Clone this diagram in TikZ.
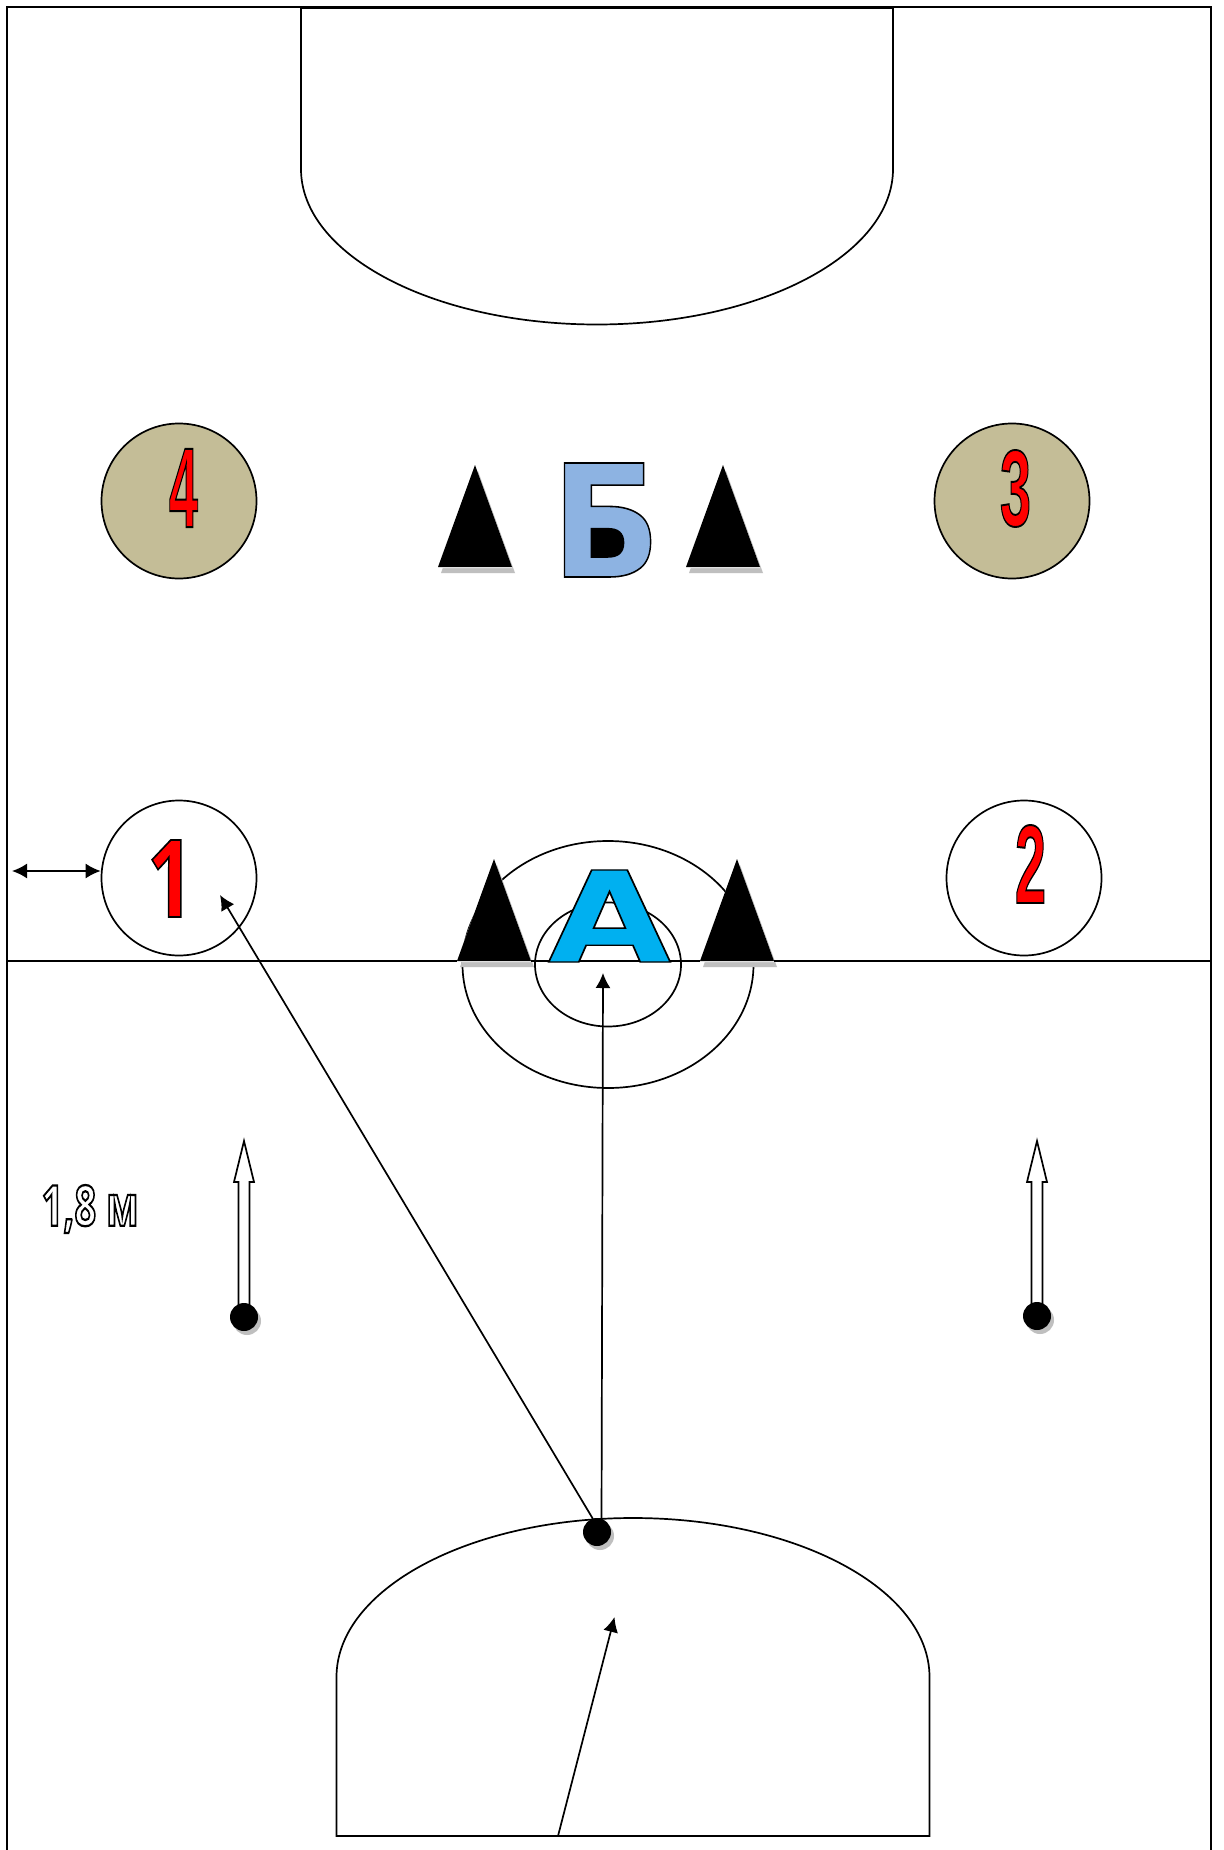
\documentclass[tikz,border=0pt]{standalone}
\usepackage{fontspec}
\usepackage{graphicx}
\usetikzlibrary{arrows.meta}
\newfontfamily\heavyfont{DejaVu Sans Bold}
\newfontfamily\digitfont{Liberation Sans Bold}
\newfontfamily\plainfont{Open Sans Bold}
\definecolor{tanfill}{HTML}{C4BD97}
\definecolor{shadowgray}{HTML}{BFBFBF}
% outlined letters: width, height, fill rgb, stroke width, font, text
\newcommand{\wordart}[6]{\resizebox*{#1}{#2}{\special{pdf:code q 2 Tr #4 w 0 0 0 RG #3 rg}\fontsize{20pt}{20pt}\selectfont#5#6\special{pdf:code Q}}}
\tikzstyle{base} = [line width = 0.85pt, draw=black]
\tikzstyle{player} = [circle, minimum size = 77.5pt, inner sep = 0pt, line width = 0.85pt, draw=black, fill=white]
\tikzstyle{playerdark} = [player, fill=tanfill]
\tikzstyle{letter} = [inner sep = 0pt, outer sep = 0pt]
\tikzstyle{ball} = [circle, minimum size = 14pt, inner sep = 0pt, fill=black]
\tikzstyle{ballshadow} = [circle, minimum size = 14pt, inner sep = 0pt, fill=shadowgray]
\tikzstyle{line} = [draw, line width = 0.85pt, -{Latex[length=7.5pt, width=7.5pt]}]
\tikzstyle{twoway} = [draw, line width = 0.85pt, {Latex[length=7.5pt, width=7.5pt]}-{Latex[length=7.5pt, width=7.5pt]}]
\tikzstyle{hollow} = [line width = 0.85pt, draw=black, fill=white, line join=miter]
\begin{document}
\begin{tikzpicture}[x=0.5pt, y=-0.5pt]
  \useasboundingbox (0,0) rectangle (1223,1850);
  \fill[white] (0,0) rectangle (1223,1850);
  % field
  \draw[base] (7,1850) -- (7,7) -- (1211,7) -- (1211,1850);
  \draw[base] (7,961) -- (1211,961);
  % goal areas
  \draw[base] (301,8) -- (893,8) -- (893,169) arc (0:-180:296pt*0.5 and 155.5pt*0.5) -- cycle;
  \draw[base] (336.5,1836) -- (336.5,1677) arc (180:0:296.5pt*0.5 and 159pt*0.5) -- (929.5,1836) -- cycle;
  % rings at the centre
  \draw[base] (608,964.5) ellipse (145.5pt*0.5 and 123.5pt*0.5);
  \draw[base] (608,964.5) ellipse (73pt*0.5 and 62pt*0.5);
  % cones
  \foreach \apex/\top/\bottom in {475/465/567, 723/465/567, 494/859/961, 737/859/961} {
    \fill[shadowgray] (\apex-37+3,\bottom+6) -- (\apex+3,\top+6) -- (\apex+37+3,\bottom+6) -- cycle;
    \fill[white] (\apex-37,\bottom) -- (\apex,\top) -- (\apex+37,\bottom) -- (\apex+37,\bottom+1) -- (\apex-37,\bottom+1) -- cycle;
    \fill[black] (\apex-37,\bottom) -- (\apex,\top) -- (\apex+37,\bottom) -- cycle;
  }
  \draw[base] (7,961) -- (457,961);
  \draw[base] (531,961) -- (700,961);
  \draw[base] (774,961) -- (1211,961);
  % players
  \node [playerdark] (p4) at (179,501) {};
  \node [playerdark] (p3) at (1012,501) {};
  \node [player] (p1) at (179,878) {};
  \node [player] (p2) at (1024,878) {};
  % numbers and letters
  \node [letter] (n4) at (183.5,488) {\wordart{14.5pt}{39pt}{1 0 0}{0.35}{\digitfont}{4}};
  \node [letter] (n3) at (1015.5,488.5) {\wordart{15.5pt}{38.5pt}{1 0 0}{0.35}{\digitfont}{3}};
  \node [letter] (n1) at (170.5,878.5) {\wordart{23.2pt}{38.5pt}{1 0 0}{0.35}{\plainfont}{1}};
  \node [letter] (n2) at (1030.5,864) {\wordart{15.5pt}{39pt}{1 0 0}{0.35}{\digitfont}{2}};
  % the counter of this letter is black
  \fill[black] (585,522) rectangle (632,558);
  \node [letter] (letB) at (606,520) {\wordart{54.7pt}{57pt}{0.553 0.702 0.886}{0.2}{\heavyfont}{Б}};
  \node [letter] (letA) at (609.5,916) {\wordart{61.5pt}{46pt}{0 0.69 0.941}{0.22}{\heavyfont}{А}};
  \node [letter] (dist) at (90,1209) {\wordart{48.5pt}{24pt}{1 1 1}{0.8}{\plainfont}{1,8 м}};
  % balls
  \node [ballshadow] (shadowL) at (247,1321) {};
  \node [ballshadow] (shadowR) at (1040,1320) {};
  \node [ballshadow] (shadowM) at (600,1536) {};
  % running arrows
  \foreach \nm/\xpos/\ypos in {L/244/1317, R/1037/1316} {
    \coordinate (tip\nm) at (\xpos,1141);
    \draw[hollow] (tip\nm) -- ++(10,41) -- ++(-4.5,0) -- (\xpos+5.5,\ypos) -- (\xpos-5.5,\ypos) -- (\xpos-5.5,1182) -- ++(-4.5,0) -- cycle;
    \node [ball] (ball\nm) at (\xpos,\ypos) {};
  }
  \node [ball] (ballM) at (597,1532) {};
  % passes
  \coordinate (gate) at (558,1836);
  \coordinate (toA) at (603,973);
  \coordinate (toOne) at (220,895);
  \coordinate (toBall) at (614.5,1617);
  \coordinate (wall) at (12,871);
  \path [line] (601.5,1521) -- (toA);
  \path [line] (593,1519) -- (toOne);
  \path [line] (gate) -- (toBall);
  \path [twoway] (wall) -- (p1.west |- wall);
\end{tikzpicture}
\end{document}
